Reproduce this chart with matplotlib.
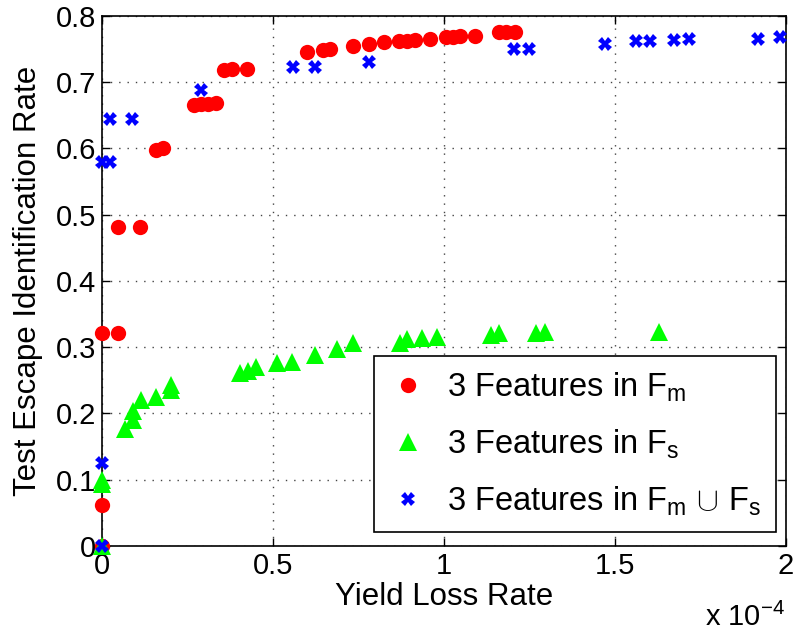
import matplotlib
matplotlib.use("Agg")
import matplotlib.pyplot as plt
from matplotlib.ticker import FuncFormatter, MultipleLocator

plt.rcParams['font.family'] = ['Liberation Sans', 'DejaVu Sans']
plt.rcParams['mathtext.fontset'] = 'custom'
plt.rcParams['mathtext.rm'] = 'Liberation Sans'
plt.rcParams['mathtext.it'] = 'Liberation Sans'

# yield loss rate values are in units of 1e-4
fm_x = [0, 0, 0, 0.047, 0.047, 0.112, 0.159, 0.179, 0.27, 0.292, 0.312, 0.334,
        0.358, 0.38, 0.426, 0.602, 0.648, 0.669, 0.735, 0.782, 0.825, 0.870,
        0.893, 0.915, 0.959, 1.006, 1.027, 1.049, 1.091, 1.161, 1.183, 1.207]
fm_y = [0, 0.062, 0.321, 0.321, 0.4815, 0.4815, 0.597, 0.600, 0.665, 0.667, 0.667, 0.668,
        0.718, 0.7195, 0.720, 0.745, 0.748, 0.750, 0.7547, 0.757, 0.761, 0.7617,
        0.763, 0.764, 0.765, 0.768, 0.768, 0.770, 0.770, 0.776, 0.776, 0.776]

fs_x = [0, 0, 0, 0.069, 0.091, 0.091, 0.114, 0.159, 0.202, 0.202, 0.404, 0.429,
        0.451, 0.513, 0.558, 0.625, 0.689, 0.735, 0.872, 0.893, 0.938, 0.98,
        1.137, 1.161, 1.271, 1.295, 1.628]
fs_y = [0, 0.093, 0.1, 0.176, 0.190, 0.203, 0.220, 0.225, 0.2355, 0.243, 0.2607, 0.2647,
        0.2697, 0.2767, 0.278, 0.288, 0.2975, 0.306, 0.306, 0.312, 0.3145, 0.316,
        0.3185, 0.321, 0.322, 0.3235, 0.3235]

fmfs_x = [0, 0, 0, 0.025, 0.025, 0.09, 0.29, 0.56, 0.625, 0.782, 1.205, 1.248,
          1.472, 1.561, 1.604, 1.672, 1.716, 1.918, 1.984]
fmfs_y = [0, 0.1248, 0.579, 0.579, 0.644, 0.645, 0.689, 0.7225, 0.7225, 0.7306, 0.7507, 0.7507,
          0.758, 0.762, 0.762, 0.764, 0.766, 0.766, 0.769]

labels = ['3 Features in $\\mathrm{F_m}$',
          '3 Features in $\\mathrm{F_s}$',
          '3 Features in $\\mathrm{F_m\\,\\cup\\,F_s}$']

fig = plt.figure(figsize=(7.93, 6.35), dpi=100)
ax = fig.add_axes([0.128, 0.1402, 0.863, 0.8346])

ax.plot(fm_x, fm_y, 'o', color='#ff0000', markersize=11, markeredgewidth=0, label=labels[0], clip_on=False, zorder=3)
ax.plot(fs_x, fs_y, '^', color='#00ff00', markersize=13, markeredgewidth=0, label=labels[1], clip_on=False, zorder=3)
ax.plot(fmfs_x, fmfs_y, 'X', color='#0000ff', markersize=10, markeredgewidth=0, label=labels[2], clip_on=False, zorder=3)

ax.set_xlim(0, 2)
ax.set_ylim(0, 0.8)
ax.xaxis.set_major_locator(MultipleLocator(0.5))
ax.yaxis.set_major_locator(MultipleLocator(0.1))
fmt = FuncFormatter(lambda v, p: '%g' % round(v, 4))
ax.xaxis.set_major_formatter(fmt)
ax.yaxis.set_major_formatter(fmt)
ax.tick_params(direction='in', length=6, width=1, top=True, right=True, labelsize=21, pad=4)
ax.grid(True, linestyle=(0, (1, 5)), color='#444444', linewidth=1.0)
for s in ax.spines.values():
    s.set_linewidth(1.2)

ax.set_xlabel('Yield Loss Rate', fontsize=22.5, labelpad=2)
ax.set_ylabel('Test Escape Identification Rate', fontsize=22.5, labelpad=9)
fig.text(0.99, 0.004, 'x 10$^{-4}$', fontsize=21, ha='right', va='bottom')

leg = ax.legend(loc='lower right', bbox_to_anchor=(0.9854, 0.026), fontsize=23.5,
                frameon=True, fancybox=False, edgecolor='black', framealpha=1,
                labelspacing=0.72, handletextpad=0.6, borderpad=0.45, borderaxespad=0,
                handlelength=1.2)
leg.get_frame().set_linewidth(1.2)

fig.savefig('out.png', dpi=100)
